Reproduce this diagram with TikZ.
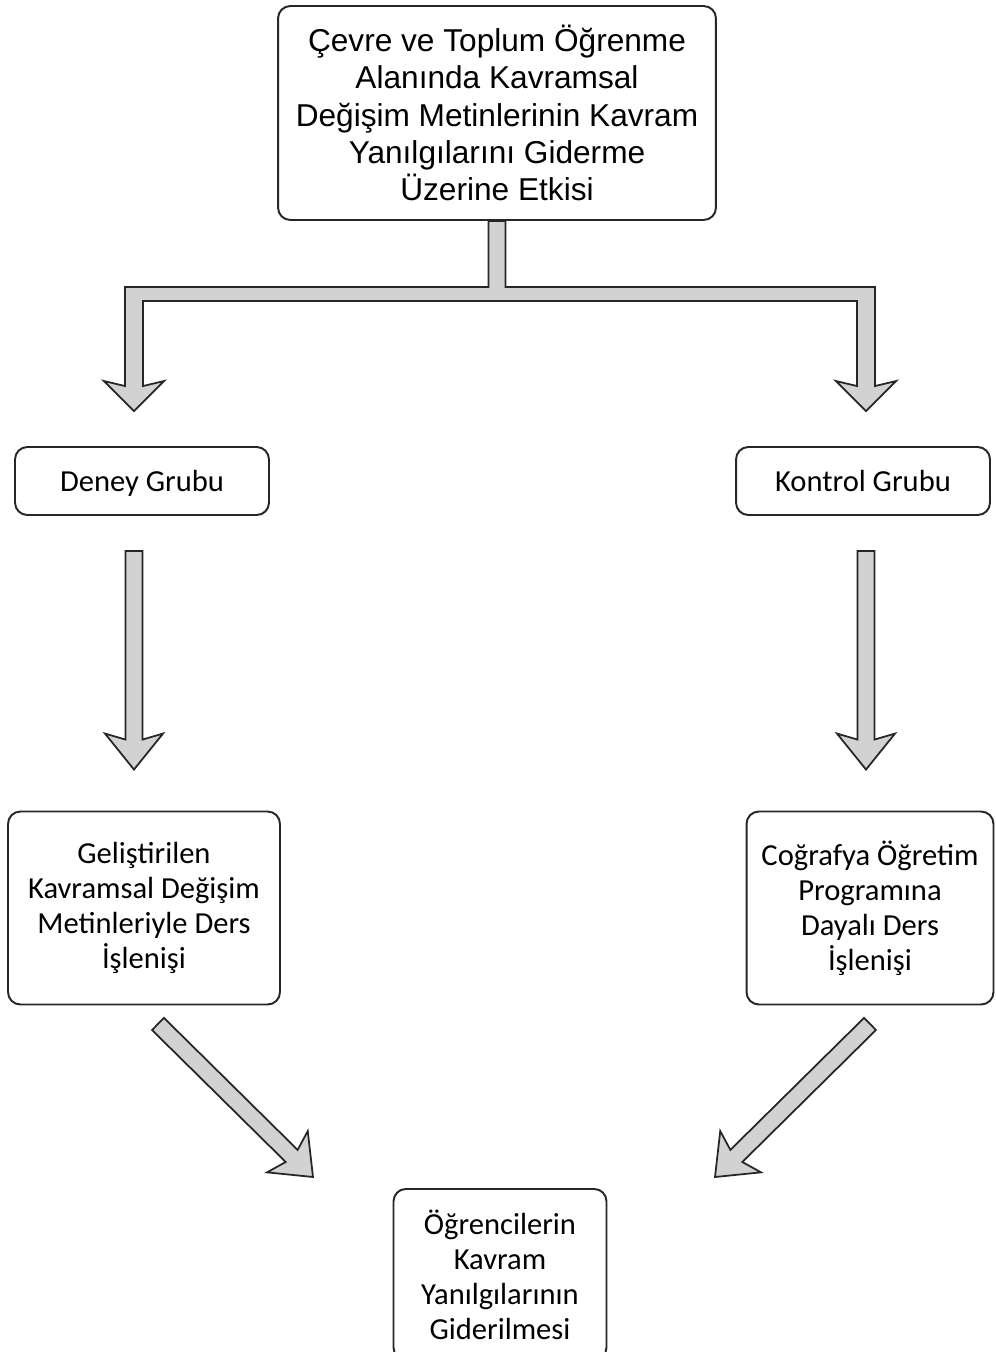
\documentclass[tikz,border=0pt]{standalone}
\usepackage{fontspec}
\setmainfont{Carlito}
\newfontfamily\arialfont{Liberation Sans}
\usetikzlibrary{positioning, calc}

% kalin gri ok: #1 kuyruk, #2 uc
\newcommand{\blockarrow}[2]{%
  \draw[fatarrow] ($(#1)!0.17cm!90:(#2)$) -- ($(#2)!0.6cm!(#1)!0.17cm!90:(#2)$)
    -- ($(#2)!0.72cm!(#1)!0.58cm!90:(#2)$) -- (#2)
    -- ($(#2)!0.72cm!(#1)!0.58cm!-90:(#2)$) -- ($(#2)!0.6cm!(#1)!0.17cm!-90:(#2)$)
    -- ($(#1)!0.17cm!-90:(#2)$) -- cycle;}

\begin{document}
\begin{tikzpicture}[
    x=0.02cm, y=-0.02cm,
    box/.style={rectangle, rounded corners=7pt, draw=black!85, line width=1.1pt, fill=white, align=center, inner sep=3pt},
    main/.style={box, font=\arialfont\fontsize{18}{21.3}\selectfont, minimum width=8.76cm, minimum height=4.28cm},
    grp/.style={box, font=\fontsize{17.4}{19.9}\selectfont, minimum width=5.08cm, minimum height=1.36cm, text depth=0pt},
    lesson/.style={box, font=\fontsize{17.4}{19.9}\selectfont, minimum height=3.86cm},
    result/.style={box, font=\fontsize{17.4}{19.9}\selectfont, minimum width=4.26cm, minimum height=3.42cm, anchor=north},
    fatarrow/.style={draw=black!85, line width=1pt, fill=gray!35, line join=miter}
]
\useasboundingbox (0,0) rectangle (996,1352);

% kutular
\node[main] (top) at (497,113) {Çevre ve Toplum Öğrenme\\Alanında Kavramsal\\Değişim Metinlerinin Kavram\\Yanılgılarını Giderme\\Üzerine Etkisi};
\node[grp] (deney) at (142,481) {Deney Grubu};
\node[grp] (kontrol) at (863,481) {Kontrol Grubu};
\node[lesson, minimum width=5.44cm] (gel) at (144,908) {Geliştirilen\\Kavramsal Değişim\\Metinleriyle Ders\\İşlenişi};
\node[lesson, minimum width=4.94cm] (cog) at (870,908) {Coğrafya Öğretim\\Programına\\Dayalı Ders\\İşlenişi};
\node[result] (res) at (500,1188) {Öğrencilerin\\Kavram\\Yanılgılarının\\Giderilmesi};

% ok uclari
\coordinate (lt) at ($(deney.north)+(-8,-35)$);
\coordinate (rt) at ($(kontrol.north)+(3,-35)$);
\coordinate (d1) at ($(deney.south)+(-8,35)$);
\coordinate (d2) at ($(gel.north)+(-10,-41)$);
\coordinate (k1) at ($(kontrol.south)+(3,35)$);
\coordinate (k2) at ($(cog.north)+(-4,-41)$);
\coordinate (g1) at ($(gel.south)+(14,18.5)$);
\coordinate (g2) at ($(res.north)+(-187,-11)$);
\coordinate (c1) at ($(cog.south)+(0,18.5)$);
\coordinate (c2) at ($(res.north)+(215,-11)$);

% ayrilan ok
\draw[fatarrow] ($(top.south)+(-8.5,0)$) -- ++(0,66) -| ($(lt)+(-9,-25)$) -- ++(-21,-5) -- (lt)
  -- ++(30,-30) -- ++(-21,5) |- ($(rt)+(-9,-110)$) -- ++(0,85) -- ++(-21,-5) -- (rt)
  -- ++(30,-30) -- ++(-21,5) |- ($(top.south)+(8.5,66)$) -- ++(0,-66) -- cycle;

\blockarrow{d1}{d2}
\blockarrow{k1}{k2}
\blockarrow{g1}{g2}
\blockarrow{c1}{c2}

\end{tikzpicture}
\end{document}
